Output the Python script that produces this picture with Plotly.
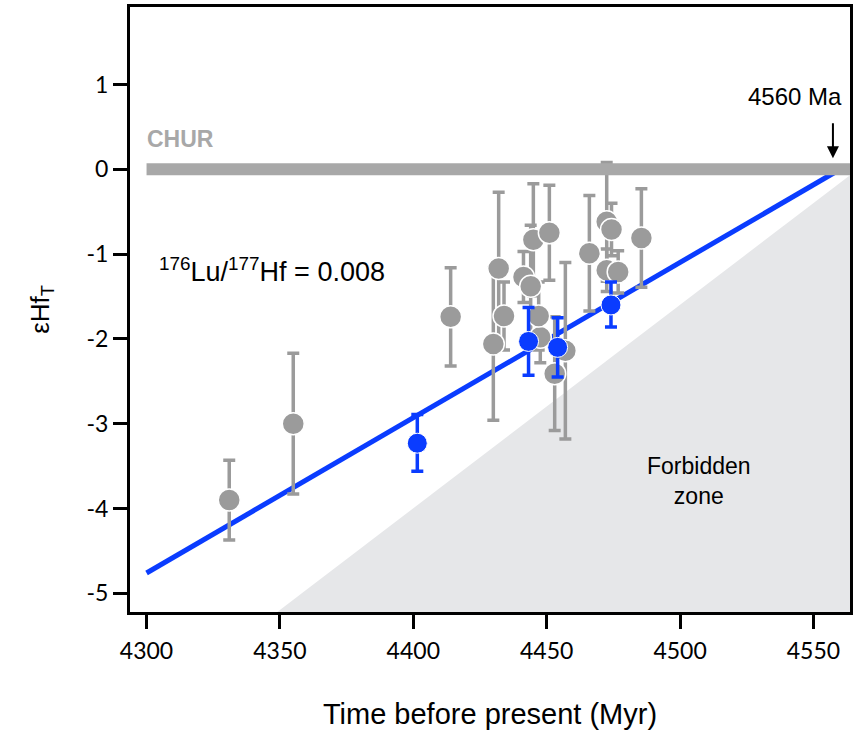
import plotly.graph_objects as go

# ---------------- data ----------------
gray_x = [4441.3, 4472.5, 4472.5, 4447.6, 4457.0,
          4331.0, 4355.0, 4414.0, 4432.0, 4434.0, 4430.0, 4445.0, 4451.0,
          4444.0, 4447.0, 4453.0, 4466.0, 4474.3, 4485.5, 4476.8]
gray_y = [-1.27, -0.62, -1.19, -1.98, -2.14,
          -3.90, -3.00, -1.74, -1.17, -1.73, -2.06, -0.83, -0.75,
          -1.38, -1.73, -2.41, -0.99, -0.71, -0.81, -1.21]
gray_err = [0.30, 0.70, 0.25, 0.30, 1.04,
            0.47, 0.83, 0.58, 0.90, 0.40, 0.90, 0.66, 0.56,
            0.72, 0.40, 0.67, 0.68, 0.31, 0.58, 0.25]

blue_x = [4401.5, 4443.2, 4454.1, 4474.1]
blue_y = [-3.23, -2.03, -2.10, -1.60]
blue_err_plus = [0.34, 0.40, 0.35, 0.27]
blue_err_minus = [0.33, 0.40, 0.35, 0.26]

fit_x = [4300, 4560]
fit_y = [-4.76, 0.0]

chur_x = [4300, 4563.7]
chur_y = [0, 0]

zone_x = [4349, 4563.7, 4563.7, 4349]
zone_y = [-5.22, -0.07, -5.22, -5.22]

x_ticks = [4300, 4350, 4400, 4450, 4500, 4550]
y_ticks = [1, 0, -1, -2, -3, -4, -5]
y_ticktext = ["1", "0", "-1", "-2", "-3", "-4", "-5"]

x_range = [4293.8, 4563.7]
y_range = [-5.22, 1.913]

GRAY = "#9b9b9b"
BLUE = "#0a3cff"
FONT = "Liberation Sans"

fig = go.Figure()

fig.add_trace(go.Scatter(x=zone_x, y=zone_y, fill="toself", mode="none",
                         fillcolor="#e6e7e9", hoverinfo="skip", showlegend=False))

fig.add_trace(go.Scatter(x=fit_x, y=fit_y, mode="lines",
                         line=dict(color=BLUE, width=5), showlegend=False))

fig.add_trace(go.Scatter(
    x=gray_x, y=gray_y, mode="markers",
    marker=dict(size=22, color=GRAY, line=dict(color="white", width=1.5)),
    error_y=dict(type="data", array=gray_err, color=GRAY, thickness=3.5, width=6),
    showlegend=False))

fig.add_trace(go.Scatter(x=chur_x, y=chur_y, mode="lines",
                         line=dict(color="#a8a8a8", width=12), showlegend=False))

fig.add_trace(go.Scatter(
    x=blue_x, y=blue_y, mode="markers",
    marker=dict(size=20, color=BLUE, line=dict(color="white", width=1)),
    error_y=dict(type="data", symmetric=False, array=blue_err_plus,
                 arrayminus=blue_err_minus, color=BLUE, thickness=3.5, width=6),
    showlegend=False))

fig.add_annotation(x=4299.5, y=0.36, xanchor="left", yanchor="middle",
                   text="<b>CHUR</b>", showarrow=False,
                   font=dict(family=FONT, size=23, color="#a8a8a8"))
fig.add_annotation(x=4304, y=-1.19, xanchor="left", yanchor="middle",
                   text="<sup>176</sup>Lu/<sup>177</sup>Hf = 0.008", showarrow=False,
                   font=dict(family=FONT, size=27, color="black"))
fig.add_annotation(x=4507, y=-3.67, xanchor="center", yanchor="middle",
                   text="Forbidden<br>zone", showarrow=False,
                   font=dict(family=FONT, size=23, color="black"))
fig.add_annotation(x=4543, y=0.86, xanchor="center", yanchor="middle",
                   text="4560 Ma", showarrow=False,
                   font=dict(family=FONT, size=24, color="black"))
fig.add_annotation(x=4557.3, y=0.13, ax=4557.3, ay=0.56, xref="x", yref="y",
                   axref="x", ayref="y", text="", showarrow=True,
                   arrowhead=2, arrowsize=1.2, arrowwidth=2, arrowcolor="black")

fig.update_layout(
    width=855, height=738,
    margin=dict(l=130, r=2, t=7, b=126),
    paper_bgcolor="white", plot_bgcolor="white",
    font=dict(family=FONT, color="black"),
    xaxis=dict(range=x_range, tickvals=x_ticks, ticks="outside", ticklen=14,
               tickwidth=3, tickcolor="black", showline=True, linecolor="black",
               linewidth=3, mirror=True, showgrid=False, zeroline=False,
               ticklabelstandoff=2,
               tickfont=dict(family="Lato", size=23),
               title=dict(text="Time before present (Myr)",
                          font=dict(family=FONT, size=29), standoff=42)),
    yaxis=dict(range=y_range, tickvals=y_ticks, ticktext=y_ticktext,
               ticks="outside", ticklen=14, tickwidth=3, tickcolor="black",
               showline=True, linecolor="black", linewidth=3, mirror=True,
               showgrid=False, zeroline=False,
               tickfont=dict(family="Lato", size=23),
               title=dict(text="εHf<sub>T</sub>",
                          font=dict(family=FONT, size=26), standoff=30)),
)

fig.write_html("out.html")
